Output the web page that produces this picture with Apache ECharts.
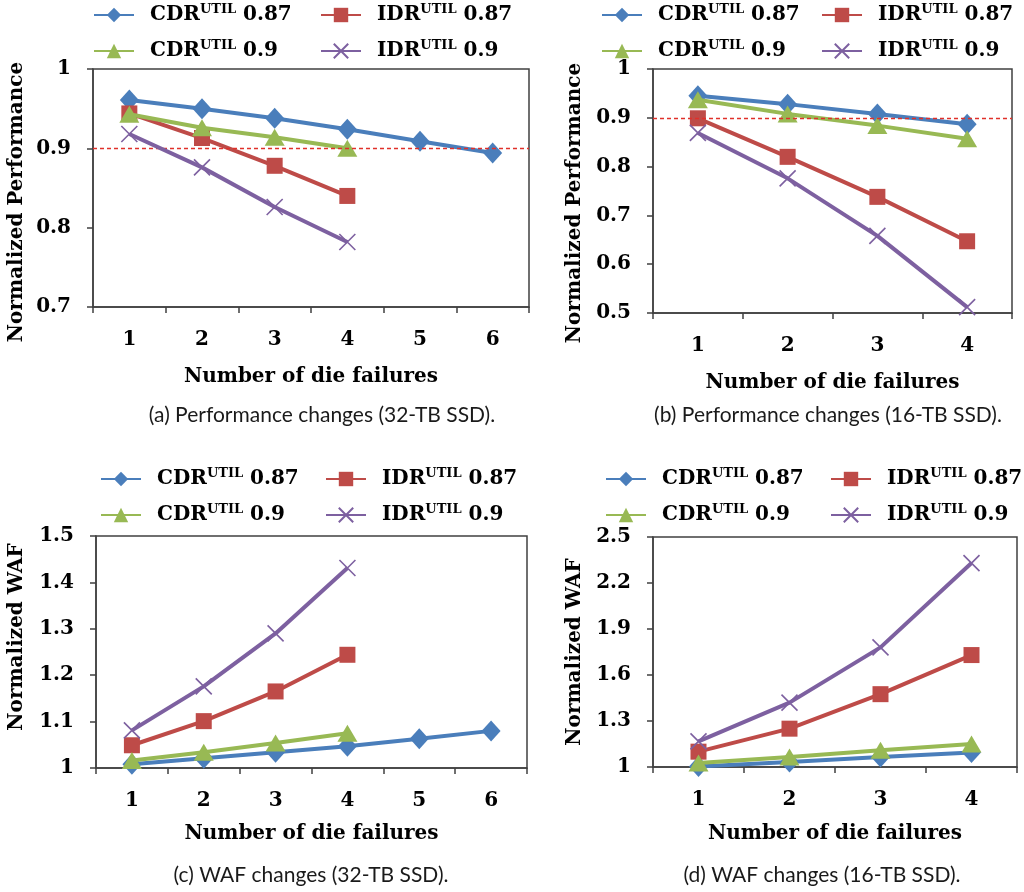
<!DOCTYPE html>
<html><head><meta charset="utf-8">
<script src="https://cdn.jsdelivr.net/npm/echarts@6/dist/echarts.min.js"></script>
<style>html,body{margin:0;padding:0;background:#fff}#c{width:1024px;height:892px}</style>
</head><body><div id="c"></div>
<script>
// ---- data ----
const schemes = ['CDR', 'IDR', 'CDR', 'IDR'];
const utils = ['0.87', '0.87', '0.9', '0.9'];
const failures32 = ['1', '2', '3', '4', '5', '6'];
const failures16 = ['1', '2', '3', '4'];

// (a) performance, 32-TB SSD
const perf32_cdr087 = [0.961, 0.950, 0.938, 0.924, 0.909, 0.894];
const perf32_idr087 = [0.944, 0.913, 0.878, 0.840];
const perf32_cdr09  = [0.943, 0.926, 0.914, 0.900];
const perf32_idr09  = [0.918, 0.876, 0.826, 0.782];
// (b) performance, 16-TB SSD
const perf16_cdr087 = [0.945, 0.928, 0.908, 0.887];
const perf16_idr087 = [0.899, 0.820, 0.738, 0.647];
const perf16_cdr09  = [0.937, 0.908, 0.884, 0.857];
const perf16_idr09  = [0.869, 0.776, 0.658, 0.512];
// (c) WAF, 32-TB SSD
const waf32_cdr087 = [1.008, 1.021, 1.034, 1.047, 1.063, 1.080];
const waf32_idr087 = [1.049, 1.101, 1.165, 1.244];
const waf32_cdr09  = [1.016, 1.034, 1.054, 1.075];
const waf32_idr09  = [1.081, 1.176, 1.290, 1.431];
// (d) WAF, 16-TB SSD
const waf16_cdr087 = [1.004, 1.033, 1.065, 1.095];
const waf16_idr087 = [1.100, 1.250, 1.475, 1.730];
const waf16_cdr09  = [1.026, 1.065, 1.110, 1.150];
const waf16_idr09  = [1.167, 1.420, 1.780, 2.330];

const perfThreshold = 0.9;
const ticksA = [0.7, 0.8, 0.9, 1];
const ticksB = [0.5, 0.6, 0.7, 0.8, 0.9, 1];
const ticksC = [1, 1.1, 1.2, 1.3, 1.4, 1.5];
const ticksD = [1, 1.3, 1.6, 1.9, 2.2, 2.5];

const captions = ['(a) Performance changes (32-TB SSD).', '(b) Performance changes (16-TB SSD).',
                  '(c) WAF changes (32-TB SSD).', '(d) WAF changes (16-TB SSD).'];
const xTitle = 'Number of die failures';
const yTitles = ['Normalized Performance', 'Normalized Performance', 'Normalized WAF', 'Normalized WAF'];

// ---- styling ----
const colors = ['#4A7EBB', '#BE4B48', '#98B954', '#7D60A0'];
const symbols = ['diamond', 'rect', 'triangle', 'path://M0,0L10,10M10,0L0,10'];
const symbolSizes = [[19, 21], 16, [20, 17], 16];
const serif = 'DejaVu Serif';
const axisColor = '#404040';
const names = schemes.map((s, i) => s + 'UTIL ' + utils[i]);

const panels = [
  { grid: { left: 93, top: 69, width: 436, height: 238 }, cats: failures32, ticks: ticksA,
    data: [perf32_cdr087, perf32_idr087, perf32_cdr09, perf32_idr09], thr: true,
    xGap: 60, yGap: 66, yPad: [0, 28, 0, 0],
    legendLeft: [93, 320], legendTop: 3, cap: [322, 415] },
  { grid: { left: 653, top: 69, width: 359, height: 244 }, cats: failures16, ticks: ticksB,
    data: [perf16_cdr087, perf16_idr087, perf16_cdr09, perf16_idr09], thr: true,
    xGap: 60, yGap: 68, yPad: [0, 24, 0, 0],
    legendLeft: [601, 821], legendTop: 3, cap: [828, 415] },
  { grid: { left: 96, top: 536, width: 431, height: 232 }, cats: failures32, ticks: ticksC,
    data: [waf32_cdr087, waf32_idr087, waf32_cdr09, waf32_idr09], thr: false,
    xGap: 56, yGap: 69, yPad: [0, 0, 0, 30],
    legendLeft: [100, 325], legendTop: 467, cap: [311, 875] },
  { grid: { left: 653, top: 537, width: 364, height: 230 }, cats: failures16, ticks: ticksD,
    data: [waf16_cdr087, waf16_idr087, waf16_cdr09, waf16_idr09], thr: false,
    xGap: 57, yGap: 68, yPad: [0, 0, 0, 0],
    legendLeft: [605, 830], legendTop: 467, cap: [822, 875] }
];

const legendFmt = function (name) {
  const parts = name.split('UTIL ');
  return '{m|' + parts[0] + '}{s|UTIL}{m| ' + parts[1] + '}';
};
const legendText = {
  padding: [0, 0, 0, 11],
  rich: {
    m: { fontFamily: serif, fontWeight: 'bold', fontSize: 20, color: '#000', lineHeight: 24 },
    s: { fontFamily: serif, fontWeight: 'bold', fontSize: 13, color: '#000', lineHeight: 16, verticalAlign: 'top' }
  }
};

const option = { animation: false, backgroundColor: '#fff',
  grid: [], xAxis: [], yAxis: [], series: [], legend: [], graphic: [] };

panels.forEach((p, gi) => {
  option.grid.push(Object.assign({ show: true, borderColor: axisColor, borderWidth: 1.5 }, p.grid));
  option.xAxis.push({
    type: 'category', gridIndex: gi, data: p.cats, boundaryGap: true,
    name: xTitle, nameLocation: 'middle', nameGap: p.xGap,
    nameTextStyle: { fontFamily: serif, fontWeight: 'bold', fontSize: 20, color: '#000' },
    axisLine: { lineStyle: { color: axisColor, width: 1.5 } },
    axisTick: { show: true, length: 6, interval: 0, lineStyle: { color: axisColor, width: 1.5 } },
    axisLabel: { fontFamily: serif, fontWeight: 'bold', fontSize: 20, color: '#000', margin: 23 },
    splitLine: { show: false }
  });
  const tk = p.ticks;
  option.yAxis.push({
    type: 'value', gridIndex: gi, min: tk[0], max: tk[tk.length - 1],
    name: yTitles[gi], nameLocation: 'middle', nameGap: p.yGap,
    nameTextStyle: { fontFamily: serif, fontWeight: 'bold', fontSize: 20, color: '#000', padding: p.yPad },
    axisLine: { show: true, lineStyle: { color: axisColor, width: 1.5 } },
    axisTick: { show: true, length: 6, customValues: tk, lineStyle: { color: axisColor, width: 1.5 } },
    axisLabel: { fontFamily: serif, fontWeight: 'bold', fontSize: 20, color: '#000', margin: 22, customValues: tk },
    splitLine: { show: false }
  });
  p.data.forEach((arr, si) => {
    const s = {
      type: 'line', name: names[si], xAxisIndex: gi, yAxisIndex: gi, data: arr,
      symbol: symbols[si], symbolSize: symbolSizes[si], showAllSymbol: true,
      lineStyle: { color: colors[si], width: 4 },
      itemStyle: { color: colors[si], borderColor: colors[si], borderWidth: si === 3 ? 1.6 : 0 },
      z: 2 + si
    };
    if (p.thr && si === 0) {
      s.markLine = { silent: true, symbol: 'none', label: { show: false },
        lineStyle: { color: '#E0302A', type: [4, 3], width: 1.3 },
        data: [{ yAxis: perfThreshold }] };
    }
    option.series.push(s);
  });
  [[0, 2], [1, 3]].forEach((pair, ci) => {
    option.legend.push({
      orient: 'vertical', left: p.legendLeft[ci], top: p.legendTop, itemGap: 14,
      itemWidth: 40, itemHeight: 18, padding: 0,
      data: pair.map(k => names[k]), formatter: legendFmt, textStyle: legendText,
      selectedMode: false
    });
  });
  option.graphic.push({
    type: 'text', x: p.cap[0], y: p.cap[1],
    style: { text: captions[gi], fill: '#1a1a1a', font: '21px Lato', textAlign: 'center', textVerticalAlign: 'middle' }
  });
});

const chart = echarts.init(document.getElementById('c'), null, { renderer: 'canvas' });
chart.setOption(option);
</script>
</body></html>
